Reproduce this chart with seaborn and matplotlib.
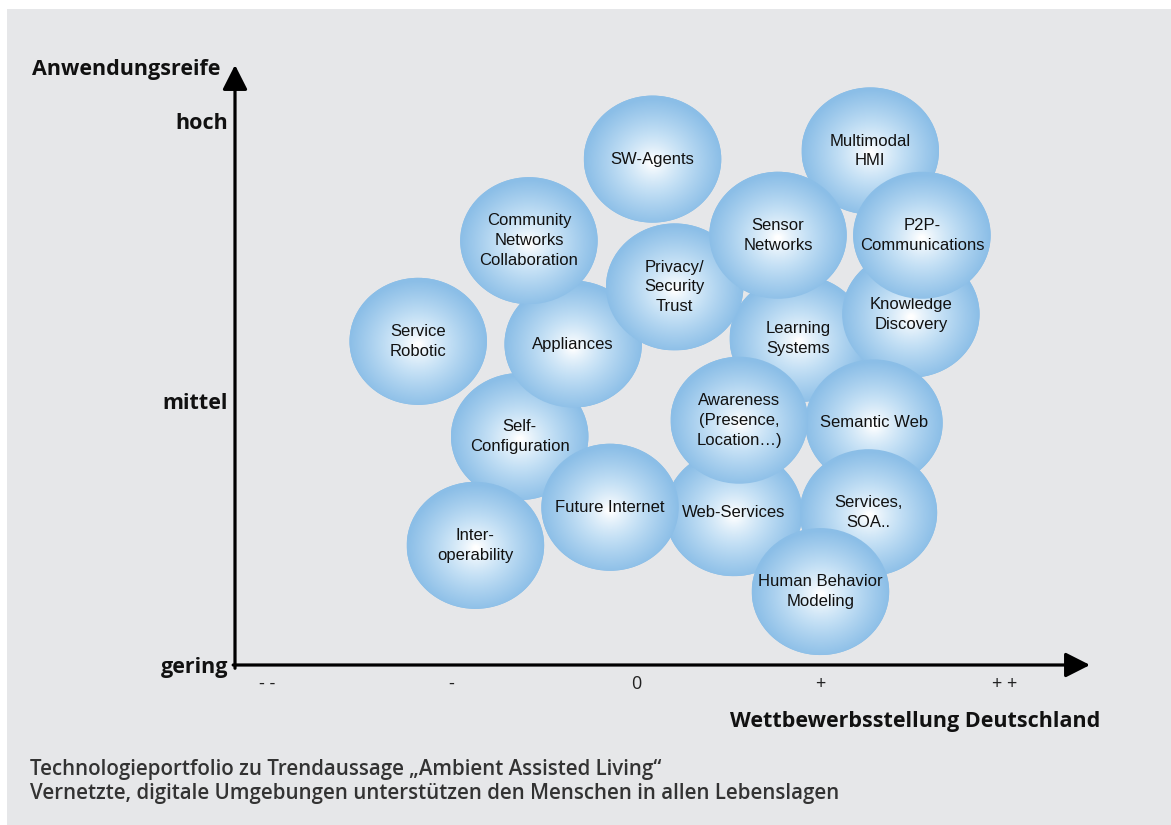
import numpy as np
import matplotlib
matplotlib.use('Agg')
import matplotlib.pyplot as plt
import seaborn as sns
from matplotlib.patches import Ellipse, Rectangle
from matplotlib.path import Path
from matplotlib.colors import LinearSegmentedColormap

# Technologien (Reihenfolge = Zeichenreihenfolge, hinten -> vorne)
labels = ['Learning\nSystems', 'Multimodal\nHMI', 'Knowledge\nDiscovery', 'SW-Agents',
          'Self-\nConfiguration', 'Appliances', 'Community\nNetworks\nCollaboration',
          'Privacy/\nSecurity\nTrust', 'Sensor\nNetworks', 'P2P-\nCommunications',
          'Semantic Web', 'Web-Services', 'Awareness\n(Presence,\nLocation…)',
          'Services,\nSOA..', 'Service\nRobotic', 'Inter-\noperability',
          'Future Internet', 'Human Behavior\nModeling']
# Wettbewerbsstellung (-2 = "- -" ... 2 = "+ +")
wettbewerb = [0.88, 1.27, 1.49, 0.09, -0.63, -0.34, -0.58, 0.21, 0.77, 1.55,
              1.29, 0.53, 0.56, 1.26, -1.18, -0.87, -0.14, 1.00]
# Anwendungsreife (0 = gering, 2 = hoch)
reife = [1.20, 1.89, 1.29, 1.86, 0.84, 1.18, 1.56, 1.39, 1.58, 1.58,
         0.89, 0.56, 0.90, 0.56, 1.19, 0.44, 0.58, 0.27]

x_ticks = [-2, -1, 0, 1, 2]
x_tick_labels = ['- -', '-', '0', '+', '+ +']
y_ticks = [0, 0.97, 2.0]
y_tick_labels = ['gering', 'mittel', 'hoch']

bubble_w, bubble_h = 0.745, 0.467
edge_col = '#8bbee7'

sns.set_theme(style='white')
plt.rcParams['font.family'] = ['Liberation Sans', 'DejaVu Sans']
bold_font = ['Open Sans', 'DejaVu Sans']

W, H = 1171, 825
fig = plt.figure(figsize=(W / 100, H / 100), dpi=100)
fig.patch.set_facecolor('white')
fig.add_artist(Rectangle((7 / W, 0), 1, 1 - 9 / H, transform=fig.transFigure,
                         facecolor='#e6e7e9', edgecolor='none', zorder=-10))

ax = fig.add_axes([235 / W, 160 / H, 855 / W, 600 / H])
ax.set_facecolor('none')
xmin, xmax, ymin, ymax = -2.173, 2.461, 0, 2.206
ax.set_xlim(xmin, xmax)
ax.set_ylim(ymin, ymax)
for s in ax.spines.values():
    s.set_visible(False)

# Grundflaeche der Blasen als seaborn-Scatter mit Ellipsen-Marker
ratio = (bubble_h * 272) / (bubble_w * 184.5)
theta = np.linspace(0, 2 * np.pi, 100)
ell_marker = Path(np.column_stack([np.cos(theta), ratio * np.sin(theta)]), closed=True)
size_pt = bubble_w * 184.5 * 72 / 100
sns.scatterplot(x=wettbewerb, y=reife, ax=ax, marker=ell_marker, s=size_pt ** 2,
                color=edge_col, edgecolor='none', linewidth=0, legend=False, zorder=2)

# radialer Verlauf weiss -> blau
cmap = LinearSegmentedColormap.from_list('bub', ['#ffffff', '#c4e0f5', edge_col])
g = np.linspace(-1, 1, 200)
xx, yy = np.meshgrid(g, g)
rr = np.clip(np.sqrt(xx ** 2 + (yy + 0.05) ** 2), 0, 1)
grad = np.clip((rr - 0.04) / 0.96, 0, 1) ** 0.8

for i, (lab, x, y) in enumerate(zip(labels, wettbewerb, reife)):
    z = 3 + i * 0.01
    e = Ellipse((x, y), bubble_w, bubble_h, transform=ax.transData)
    im = ax.imshow(grad, cmap=cmap, vmin=0, vmax=1, origin='lower',
                   extent=[x - bubble_w / 2, x + bubble_w / 2, y - bubble_h / 2, y + bubble_h / 2],
                   zorder=z, interpolation='bilinear', aspect='auto')
    im.set_clip_path(e)
    ax.text(x, y, lab, ha='center', va='center', fontsize=12, linespacing=1.4,
            color='#111111', zorder=z + 0.005)

ax.set_xlim(xmin, xmax)
ax.set_ylim(ymin, ymax)

# Achsen mit Pfeilen
arrow = dict(arrowstyle='-|>,head_length=0.75,head_width=0.38', lw=2.3, color='black',
             shrinkA=0, shrinkB=0, mutation_scale=20)
ax.annotate('', xy=(xmax, 0), xytext=(xmin - 0.01, 0), arrowprops=arrow, annotation_clip=False)
ax.annotate('', xy=(xmin, ymax), xytext=(xmin, -0.012), arrowprops=arrow, annotation_clip=False)

ax.set_xticks(x_ticks, x_tick_labels, fontsize=13, family=bold_font, color='#222222')
ax.set_yticks(y_ticks, y_tick_labels, fontsize=15.5, fontweight='bold',
              family=bold_font, color='#111111')
ax.tick_params(axis='x', length=0, pad=7)
ax.tick_params(axis='y', length=0, pad=5)
ax.grid(False)

fig.text(220 / W, 1 - 69 / H, 'Anwendungsreife', ha='right', va='center', fontsize=15.5,
         fontweight='bold', family=bold_font, color='#111111')
fig.text(1100 / W, 1 - 721 / H, 'Wettbewerbsstellung Deutschland', ha='right', va='center',
         fontsize=15.5, fontweight='bold', family=bold_font, color='#111111')

fig.text(30 / W, 1 - 770 / H, 'Technologieportfolio zu Trendaussage „Ambient Assisted Living“',
         ha='left', va='center', fontsize=14.8, fontweight='semibold',
         family=bold_font, color='#333333')
fig.text(30 / W, 1 - 793 / H, 'Vernetzte, digitale Umgebungen unterstützen den Menschen in allen Lebenslagen',
         ha='left', va='center', fontsize=14.8, fontweight='semibold',
         family=bold_font, color='#333333')

fig.savefig('out.png', dpi=100, facecolor=fig.get_facecolor())
